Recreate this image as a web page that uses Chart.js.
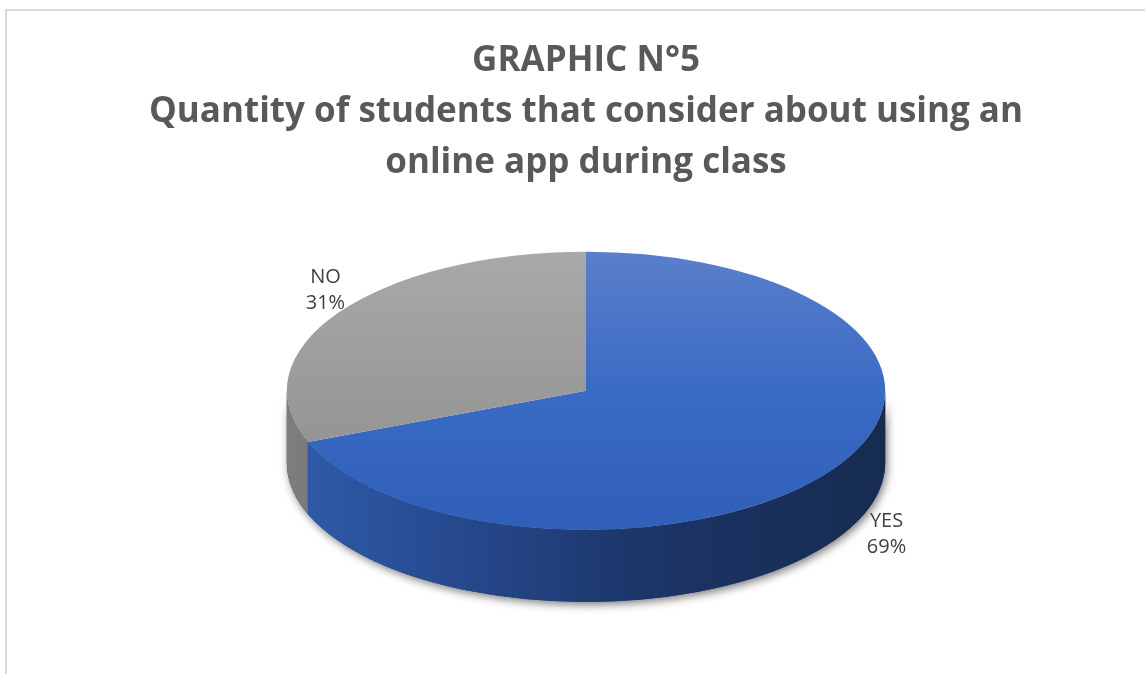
<!DOCTYPE html>
<html>
<head>
<meta charset="utf-8">
<script src="https://cdn.jsdelivr.net/npm/chart.js@4.4.0/dist/chart.umd.min.js"></script>
<style>
html, body { margin: 0; padding: 0; background: #fff; overflow: hidden; }
#frame { position: absolute; left: 5px; top: 9px; width: 1170px; height: 700px; border: 2px solid #d9d9d9; box-sizing: border-box; }
#wrap { position: absolute; left: 0; top: 0; width: 1145px; height: 674px; }
</style>
</head>
<body>
<div id="frame"></div>
<div id="wrap"><canvas id="chart"></canvas></div>
<script>
const titleLines = [
	'GRAPHIC N°5',
	'Quantity of students that consider about using an',
	'online app during class'
];
const categories = ['YES', 'NO'];
const percentages = [69, 31];

const topColors = [['#5a7fcb', '#3a6bc4', '#2f5fb9'], ['#a9a9a9', '#9a9a9a', '#8b8b8b']];
const sideColors = [['#2f5cab', '#26488c', '#1b3567', '#162b50'], ['#7d7d7d', '#6f6f6f', '#6a6a6a', '#666666']];

const FONT = "'Open Sans', sans-serif";

// fill for the top face, stretched with the same transform as the slices
function topFill(context)
{
	const chart = context.chart;
	const area = chart.chartArea;
	const colors = topColors[context.dataIndex] || topColors[0];
	if (!area)
		return colors[1];
	const cy = (area.top + area.bottom) / 2;
	const r = Math.min(area.right - area.left, area.bottom - area.top) / 2;
	const g = chart.ctx.createLinearGradient(0, cy - r, 0, cy + r);
	g.addColorStop(0, colors[0]);
	g.addColorStop(0.5, colors[1]);
	g.addColorStop(1, colors[2]);
	return g;
}

// tilted pie: side wall under the front half, squashed top face, labels outside
const pie3d = {
	id: 'pie3d',
	geometry(chart, opts)
	{
		const arc = chart.getDatasetMeta(0).data[0];
		const rx = arc.outerRadius * opts.stretch;
		return {cx: arc.x, cy: arc.y, rx, ry: rx * opts.tilt, depth: opts.depth};
	},
	beforeDatasetsDraw(chart, args, opts)
	{
		const ctx = chart.ctx;
		const {cx, cy, rx, ry, depth} = this.geometry(chart, opts);
		const arcs = chart.getDatasetMeta(0).data;

		// shadow under the whole wall
		ctx.save();
		ctx.shadowColor = 'rgba(0, 0, 0, 0.5)';
		ctx.shadowBlur = 9;
		ctx.shadowOffsetX = 2;
		ctx.shadowOffsetY = 3;
		ctx.beginPath();
		ctx.ellipse(cx, cy, rx, ry, 0, 0, Math.PI);
		ctx.ellipse(cx, cy + depth, rx, ry, 0, Math.PI, 0, true);
		ctx.closePath();
		ctx.fillStyle = sideColors[0][2];
		ctx.fill();
		ctx.restore();

		arcs.forEach((arc, i) =>
		{
			const s = Math.max(arc.startAngle, 0);
			const e = Math.min(arc.endAngle, Math.PI);
			if (e <= s)
				return;
			const c = sideColors[i];
			const g = ctx.createLinearGradient(cx - rx, 0, cx + rx, 0);
			g.addColorStop(0, c[0]);
			g.addColorStop(0.3, c[1]);
			g.addColorStop(0.6, c[2]);
			g.addColorStop(1, c[3]);
			ctx.beginPath();
			ctx.ellipse(cx, cy, rx, ry, 0, s, e);
			ctx.ellipse(cx, cy + depth, rx, ry, 0, e, s, true);
			ctx.closePath();
			ctx.fillStyle = g;
			ctx.fill();
		});

		ctx.save();
		ctx.translate(cx, cy);
		ctx.scale(opts.stretch, opts.stretch * opts.tilt);
		ctx.translate(-cx, -cy);
	},
	afterDatasetsDraw(chart, args, opts)
	{
		const ctx = chart.ctx;
		ctx.restore();

		const {cx, cy, rx, ry, depth} = this.geometry(chart, opts);
		const arcs = chart.getDatasetMeta(0).data;
		ctx.save();
		ctx.fillStyle = '#404040';
		ctx.font = "20px " + FONT;
		ctx.textAlign = 'center';
		ctx.textBaseline = 'middle';
		arcs.forEach((arc, i) =>
		{
			const mid = (arc.startAngle + arc.endAngle) / 2;
			const cos = Math.cos(mid), sin = Math.sin(mid);
			const x = cx + cos * (rx + 40) + opts.labelShift;
			const y = cy + sin * (ry + 40) + (sin > 0 ? depth * 0.6 : 0);
			ctx.fillText(categories[i], x, y - 13);
			ctx.fillText(percentages[i] + '%', x, y + 13);
		});
		ctx.restore();
	}
};

new Chart(document.getElementById('chart'), {
	type: 'pie',
	data: {
		labels: categories,
		datasets: [{
			data: percentages,
			backgroundColor: topFill,
			borderWidth: 0,
			clip: false
		}]
	},
	options: {
		responsive: true,
		maintainAspectRatio: false,
		animation: false,
		events: [],
		layout: {padding: {left: 27, right: 0, top: 0, bottom: 92}},
		plugins: {
			legend: {display: false},
			tooltip: {enabled: false},
			title: {
				display: true,
				text: titleLines,
				color: '#595959',
				font: {family: FONT, size: 35, weight: 'bold', lineHeight: 1.463},
				padding: {top: 35, bottom: 11}
			},
			pie3d: {stretch: 1.565, tilt: 0.465, depth: 72, labelShift: 20}
		}
	},
	plugins: [pie3d]
});
</script>
</body>
</html>
